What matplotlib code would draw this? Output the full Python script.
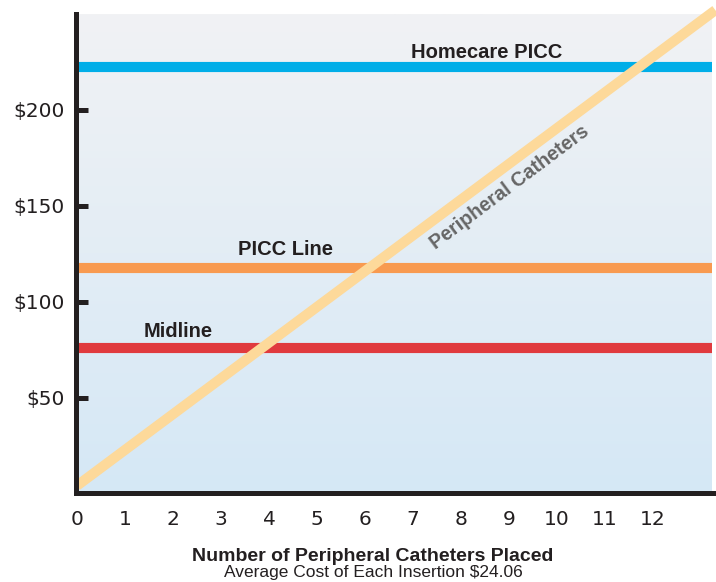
import numpy as np
import matplotlib
matplotlib.use('Agg')
import matplotlib.pyplot as plt
from matplotlib.colors import LinearSegmentedColormap

# data
catheters = list(range(0, 13))
ytick_vals = [50, 100, 150, 200]
ytick_labels = ['$50', '$100', '$150', '$200']

homecare_picc = 222.4
picc_line = 117.7
midline = 75.8

# peripheral catheter cost line (two end points)
periph_x = [0, 13.3]
periph_y = [4.2, 252]

labels = ['Homecare PICC', 'PICC Line', 'Midline']
label_x = [8.53, 4.34, 2.11]
label_y = [227.2, 124.5, 81.9]

dark = '#231f20'
fig = plt.figure(figsize=(7.16, 5.82), dpi=100)
ax = fig.add_axes([76 / 716, 1 - 493 / 582, (712 - 76) / 716, (493 - 14) / 582])

xmin, xmax = -0.02, 13.23
ymin, ymax = 0.4, 250
ax.set_xlim(xmin, xmax)
ax.set_ylim(ymin, ymax)

# background gradient
cmap = LinearSegmentedColormap.from_list('bg', ['#f1f2f4', '#d5e8f6'])
grad = np.linspace(0, 1, 256).reshape(-1, 1)
ax.imshow(grad, cmap=cmap, extent=[xmin, xmax, ymin, ymax], aspect='auto', zorder=0)

ax.plot([xmin, xmax], [homecare_picc] * 2, color='#00aee8', lw=7.3, solid_capstyle='butt', zorder=2)
ax.plot([xmin, xmax], [picc_line] * 2, color='#f89a50', lw=7.3, solid_capstyle='butt', zorder=2)
ax.plot([xmin, xmax], [midline] * 2, color='#e03a3e', lw=7.3, solid_capstyle='butt', zorder=2)
ax.plot(periph_x, periph_y, color='#fdd99a', lw=7.3, solid_capstyle='butt', zorder=3, clip_on=False)

for t, x, y in zip(labels, label_x, label_y):
    ax.text(x, y, t, ha='center', va='baseline', fontsize=14.5, fontweight='bold',
            family='Liberation Sans', color=dark, zorder=4)

ax.text(9.02, 159.4, 'Peripheral Catheters', rotation=36.9, rotation_mode='anchor',
        ha='center', va='center', fontsize=14.2, fontweight='bold',
        family='Liberation Sans', color='#666666', zorder=4)

for s in ['top', 'right']:
    ax.spines[s].set_visible(False)
for s in ['left', 'bottom']:
    ax.spines[s].set_linewidth(3.6)
    ax.spines[s].set_color(dark)
    ax.spines[s].set_zorder(5)
ax.spines['bottom'].set_bounds(xmin, 13.33)

ax.set_xticks(catheters)
ax.set_xticklabels([str(c) for c in catheters])
ax.set_yticks(ytick_vals)
ax.set_yticklabels(ytick_labels)
ax.tick_params(axis='x', length=0, pad=12, labelsize=14.5, labelcolor=dark)
ax.tick_params(axis='y', direction='in', length=8.5, width=3.6, color=dark, pad=8,
               labelsize=14.5, labelcolor=dark)

fig.text(373 / 716, 1 - 561 / 582, 'Number of Peripheral Catheters Placed', ha='center',
         va='baseline', fontsize=14, fontweight='bold', family='Liberation Sans', color=dark)
fig.text(373 / 716, 1 - 577 / 582, 'Average Cost of Each Insertion $24.06', ha='center',
         va='baseline', fontsize=12.5, family='Liberation Sans', color=dark)

fig.savefig('out.png', dpi=100)
